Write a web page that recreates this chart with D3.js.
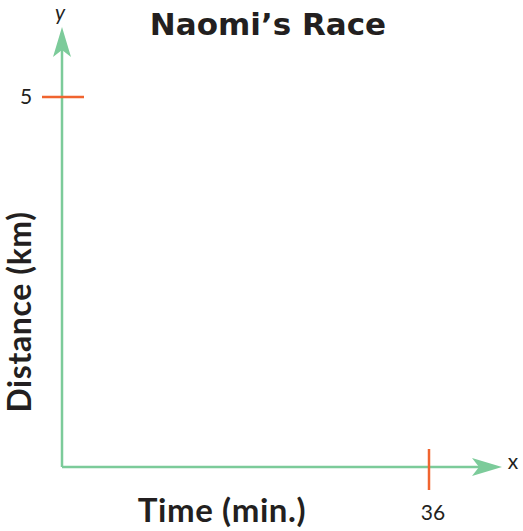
<!DOCTYPE html>
<html lang="en">
<head>
<meta charset="UTF-8">
<title>Naomi's Race</title>
<script src="https://d3js.org/d3.v7.min.js"></script>
<style>
  body { margin: 0; background: #fff; }
  text { fill: #231f20; }
</style>
</head>
<body>
<div id="fig"></div>
<script>
  // chart values
  let title = "Naomi\u2019s Race";
  let xLabel = "Time (min.)";
  let yLabel = "Distance (km)";
  let xTicks = [36];
  let yTicks = [5];

  let w = 523, h = 531;
  let green = "#7ccb9a", orange = "#f0642f";

  let svg = d3.select("#fig").append("svg")
      .attr("width", w).attr("height", h);

  let x = d3.scaleLinear().domain([0, 36]).range([62, 429]);
  let y = d3.scaleLinear().domain([0, 5]).range([467, 97]);

  // axes lines with arrow heads
  svg.append("line")
      .attr("x1", x(0)).attr("y1", y(0))
      .attr("x2", x(0)).attr("y2", 50)
      .attr("stroke", green).attr("stroke-width", 2.5);
  svg.append("path")
      .attr("d", `M${x(0)},27 L${x(0) + 9},57 L${x(0)},50 L${x(0) - 9},57 Z`)
      .attr("fill", green);

  svg.append("line")
      .attr("x1", x(0)).attr("y1", y(0))
      .attr("x2", 495).attr("y2", y(0))
      .attr("stroke", green).attr("stroke-width", 2.5);
  svg.append("path")
      .attr("d", `M502,${y(0)} L472,${y(0) - 9} L479,${y(0)} L472,${y(0) + 9} Z`)
      .attr("fill", green);

  // ticks
  svg.selectAll(".ytick").data(yTicks).join("line")
      .attr("x1", x(0) - 20).attr("x2", x(0) + 22)
      .attr("y1", d => y(d)).attr("y2", d => y(d))
      .attr("stroke", orange).attr("stroke-width", 2.5);
  svg.selectAll(".ylab").data(yTicks).join("text")
      .attr("x", 26).attr("y", d => y(d))
      .attr("dy", "0.35em")
      .attr("text-anchor", "middle")
      .attr("font-family", "Lato, sans-serif")
      .attr("font-size", 21)
      .text(d => d);

  svg.selectAll(".xtick").data(xTicks).join("line")
      .attr("x1", d => x(d)).attr("x2", d => x(d))
      .attr("y1", y(0) - 18).attr("y2", y(0) + 23)
      .attr("stroke", orange).attr("stroke-width", 2.5);
  svg.selectAll(".xlab").data(xTicks).join("text")
      .attr("x", d => x(d) + 4).attr("y", 513)
      .attr("dy", "0.35em")
      .attr("text-anchor", "middle")
      .attr("font-family", "Lato, sans-serif")
      .attr("font-size", 21)
      .text(d => d);

  // axis letters
  svg.append("text")
      .attr("x", 513).attr("y", 462).attr("dy", "0.35em")
      .attr("text-anchor", "middle")
      .attr("font-family", "Lato, sans-serif")
      .attr("font-size", 21)
      .text("x");
  svg.append("text")
      .attr("x", 60).attr("y", 13).attr("dy", "0.35em")
      .attr("text-anchor", "middle")
      .attr("font-family", "Lato, sans-serif")
      .attr("font-style", "italic")
      .attr("font-size", 21)
      .text("y");

  // titles
  svg.append("text")
      .attr("x", 268).attr("y", 24).attr("dy", "0.35em")
      .attr("text-anchor", "middle")
      .attr("font-family", "'DejaVu Sans', sans-serif")
      .attr("font-weight", "bold")
      .attr("font-size", 31)
      .text(title);

  svg.append("text")
      .attr("x", 222).attr("y", 510).attr("dy", "0.35em")
      .attr("text-anchor", "middle")
      .attr("font-family", "Lato, sans-serif")
      .attr("font-weight", "bold")
      .attr("font-size", 33)
      .attr("letter-spacing", 0.6)
      .text(xLabel);

  svg.append("text")
      .attr("transform", "translate(20,312) rotate(-90)")
      .attr("dy", "0.35em")
      .attr("text-anchor", "middle")
      .attr("font-family", "Lato, sans-serif")
      .attr("font-weight", "bold")
      .attr("font-size", 32)
      .attr("letter-spacing", 0.6)
      .text(yLabel);
</script>
</body>
</html>
